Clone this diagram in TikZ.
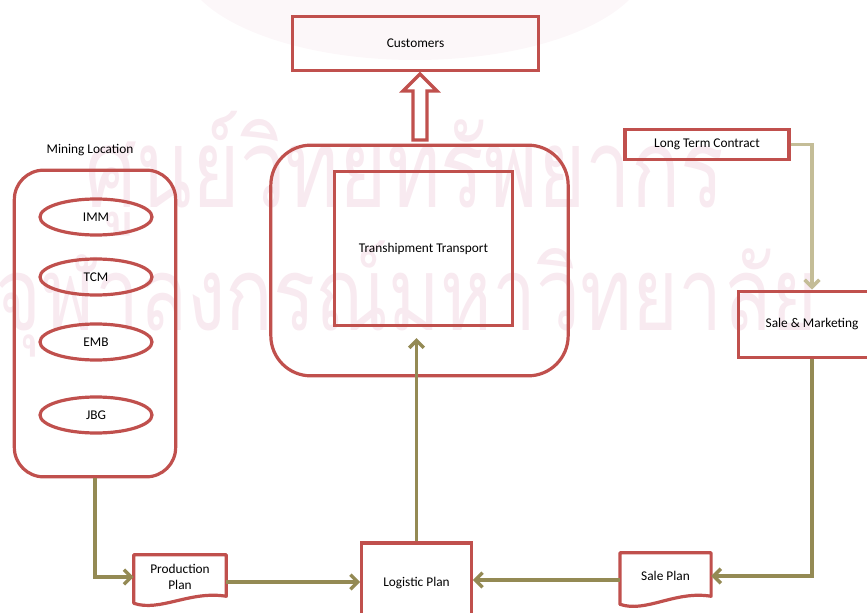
\documentclass[tikz,border=0pt]{standalone}
\usepackage{fontspec}
\setmainfont{Carlito}
\newfontfamily\thaifont[Script=Thai]{Loma}
\usetikzlibrary{arrows.meta,shapes.geometric,calc}
\definecolor{boxred}{RGB}{192,80,77}
\definecolor{flowolive}{RGB}{148,138,84}
\definecolor{flowtan}{RGB}{196,189,151}
\definecolor{markpink}{RGB}{248,234,240}
\begin{document}
\begin{tikzpicture}[x=0.75pt,y=-0.75pt,
  every node/.style={font=\fontsize{10}{12}\selectfont},
  redbox/.style={draw=boxred,line width=2.4pt,rectangle,inner sep=2pt},
  roundbox/.style={redbox,rounded corners=#1},
  mineoval/.style={draw=boxred,line width=2.4pt,ellipse,minimum width=84pt,minimum height=27pt,inner sep=0pt},
  docshape/.style={rectangle,inner sep=0pt,align=center},
  docline/.style={draw=boxred,line width=2.4pt,line join=round},
  flow/.style={draw=flowolive,line width=2.6pt,-{Straight Barb[length=5.5pt,width=11pt]}},
  lightflow/.style={draw=flowtan,line width=2.6pt,-{Straight Barb[length=5.5pt,width=11pt]}},
  wmtext/.style={text=markpink,inner sep=0pt,anchor=base west}
]
\useasboundingbox (0,0) rectangle (867,613);

% faint crest and lettering in the background
\fill[markpink!40] (415,-40) ellipse [x radius=175pt, y radius=75pt];
\node[wmtext,font=\thaifont\fontsize{61}{61}\selectfont,yscale=1.35] (wm1) at (85,207) {ศูนย์วิทยทรัพยากร};
\node[wmtext,font=\thaifont\fontsize{59}{59}\selectfont,yscale=1.3] (wm2) at (-5,330) {จุฬาลงกรณ์มหาวิทยาลัย};

% customers and the block arrow feeding it
\node[redbox,minimum width=185pt,minimum height=41pt] (cust) at (415.5,43.5) {Customers};
\draw[boxred,line width=2.4pt,fill=white,line join=miter]
  (413,140) -- (413,91) -- (403,91) -- (420,74) -- (437,91) -- (427,91) -- (427,140) -- cycle;

% transhipment block
\node[roundbox=30pt,minimum width=223pt,minimum height=173pt] (outer) at (419.5,260.5) {};
\node[redbox,minimum width=133pt,minimum height=116pt] (inner) at (423.5,248.5) {Transhipment Transport};

% mining locations
\node (minelbl) at (90,150) {Mining Location};
\node[roundbox=22pt,minimum width=121pt,minimum height=230pt] (mine) at (95,323.5) {};
\node[mineoval] (imm) at (96,217) {IMM};
\node[mineoval] (tcm) at (96,277) {TCM};
\node[mineoval] (emb) at (96,342) {EMB};
\node[mineoval] (jbg) at (96,415) {JBG};

% contract and sales
\node[redbox,minimum width=123pt,minimum height=22pt] (ltc) at (707,144.5) {Long Term Contract};
\node[redbox,minimum width=110pt,minimum height=50pt] (sm) at (812,324.5) {Sale \& Marketing};

% plans
\node[redbox,minimum width=82pt,minimum height=60pt] (lp) at (416.5,583) {Logistic Plan};
\node[docshape,minimum width=69pt,minimum height=33pt] (pp) at (180,577) {Production\\Plan};
\draw[docline] ($(pp.south west)+(0,4)$) -- (pp.north west) -- (pp.north east) -- ($(pp.south east)+(0,-3)$)
  .. controls +(-36,-6) and +(26,9) .. ($(pp.south west)+(0,4)$) -- cycle;
\node[docshape,minimum width=68pt,minimum height=34.5pt] (sp) at (665.5,576) {Sale Plan};
\draw[docline] ($(sp.south west)+(0,5)$) -- (sp.north west) -- (sp.north east) -- ($(sp.south east)+(0,-3)$)
  .. controls +(-36,-6) and +(26,9) .. ($(sp.south west)+(0,5)$) -- cycle;

% connectors
\draw[lightflow] (ltc.east) -| (sm.north);
\draw[flow] (mine.south) |- (pp.west);
\draw[flow] ($(pp.east)+(0,5)$) coordinate (ppe) -- (ppe -| lp.west);
\draw[flow] ($(sp.west)+(0,4)$) coordinate (spw) -- (spw -| lp.east);
\draw[flow] (sm.south) |- (sp.east);
\draw[flow,shorten >=8pt] (lp.north) -- (lp.north |- inner.south);
\end{tikzpicture}
\end{document}
